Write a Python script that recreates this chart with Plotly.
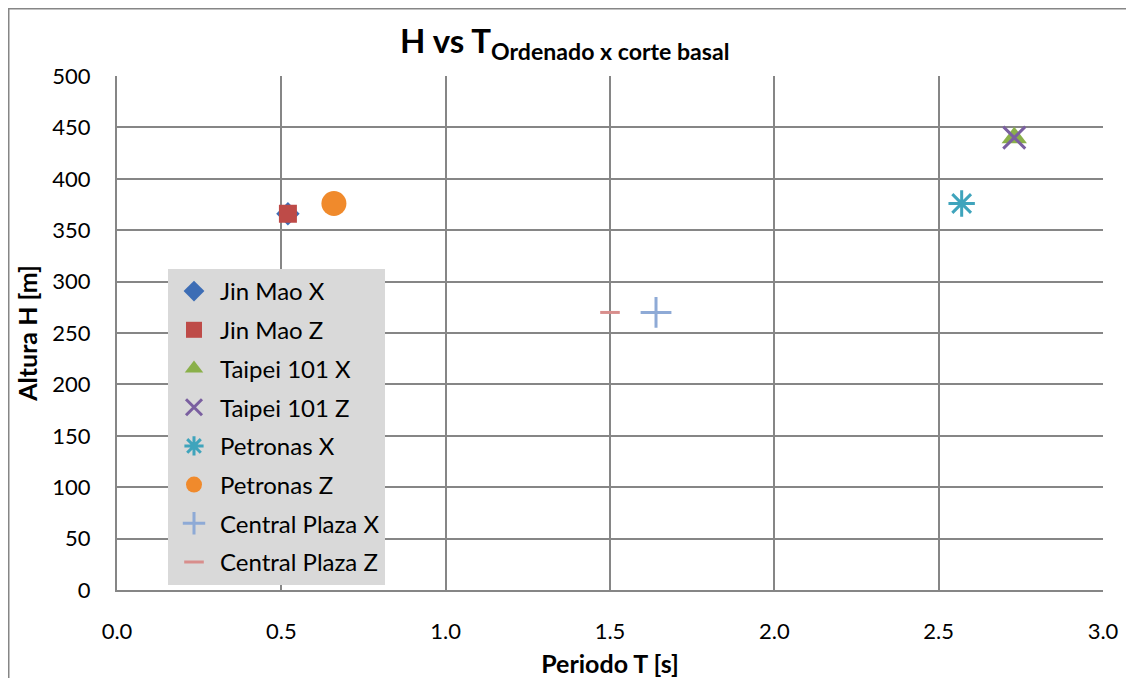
import plotly.graph_objects as go

series_names = ["Jin Mao X", "Jin Mao Z", "Taipei 101 X", "Taipei 101 Z",
                "Petronas X", "Petronas Z", "Central Plaza X", "Central Plaza Z"]
periods = [0.52, 0.52, 2.73, 2.73, 2.57, 0.66, 1.64, 1.50]
heights = [366, 366, 440, 440, 376, 376, 270, 270]
colors = ["#3D6DB5", "#BE4B48", "#8AB04A", "#7A5FA0", "#3FA4BC", "#F08A2C", "#8EAAD6", "#D88E8C"]
symbols = ["diamond", "square", "triangle-up", "x-thin-open", "asterisk-open",
           "circle", "cross-thin-open", "line-ew-open"]
sizes = [18, 18, 22, 22, 22, 25, 22, 14]

FONT = "Lato, 'Open Sans', sans-serif"
fig = go.Figure()
for i, name in enumerate(series_names):
    open_sym = symbols[i].endswith("open")
    fig.add_trace(go.Scatter(
        x=[periods[i]], y=[heights[i]], mode="markers", name=name,
        legendgroup=name,
        marker=dict(symbol=symbols[i], size=sizes[i], color=colors[i],
                    line=dict(color=colors[i], width=3 if open_sym else 0)),
    ))

# figure sits 8px inside the page (default body margin)
W, H = 1118, 670
L, R, T, B = 109, 1095, 68, 582
def px(p): return (p - L) / (R - L)
def py(q): return (B - q) / (B - T)

fig.update_layout(
    width=W, height=H,
    margin=dict(l=L, r=W - R, t=T, b=H - B),
    paper_bgcolor="white", plot_bgcolor="white",
    font=dict(family=FONT, size=22, color="black"),
    title=dict(text="<b>H vs T<sub>Ordenado x corte basal</sub></b>",
               x=0.498, xanchor="center", y=0.95, yanchor="middle",
               font=dict(size=33, family=FONT)),
    xaxis=dict(range=[0, 3.0], dtick=0.5, tickformat=".1f", automargin=False,
               showgrid=True, gridcolor="#868686", gridwidth=2,
               zeroline=False, showline=True, linecolor="#868686", linewidth=2,
               ticks="", ticklabelstandoff=21,
               title=dict(text="<b>Periodo T [s]</b>", font=dict(size=25), standoff=14),
               tickfont=dict(size=22)),
    yaxis=dict(range=[0, 500], dtick=50, automargin=False,
               showgrid=True, gridcolor="#868686", gridwidth=2,
               zeroline=False, showline=True, linecolor="#868686", linewidth=2,
               ticks="", ticklabelstandoff=20,
               title=dict(text="<b>Altura H [m]</b>", font=dict(size=25), standoff=8),
               tickfont=dict(size=22)),
    legend=dict(x=px(160), y=py(261), xanchor="left", yanchor="top",
                bgcolor="#D9D9D9", borderwidth=0,
                font=dict(size=24, family=FONT),
                tracegroupgap=4.5, itemwidth=42),
    showlegend=True,
    shapes=[dict(type="rect", xref="paper", yref="paper",
                 x0=px(0), x1=px(1140), y0=py(700), y1=py(0),
                 line=dict(color="#868686", width=3), fillcolor="rgba(0,0,0,0)",
                 layer="below")],
)

fig.write_html("out.html")
